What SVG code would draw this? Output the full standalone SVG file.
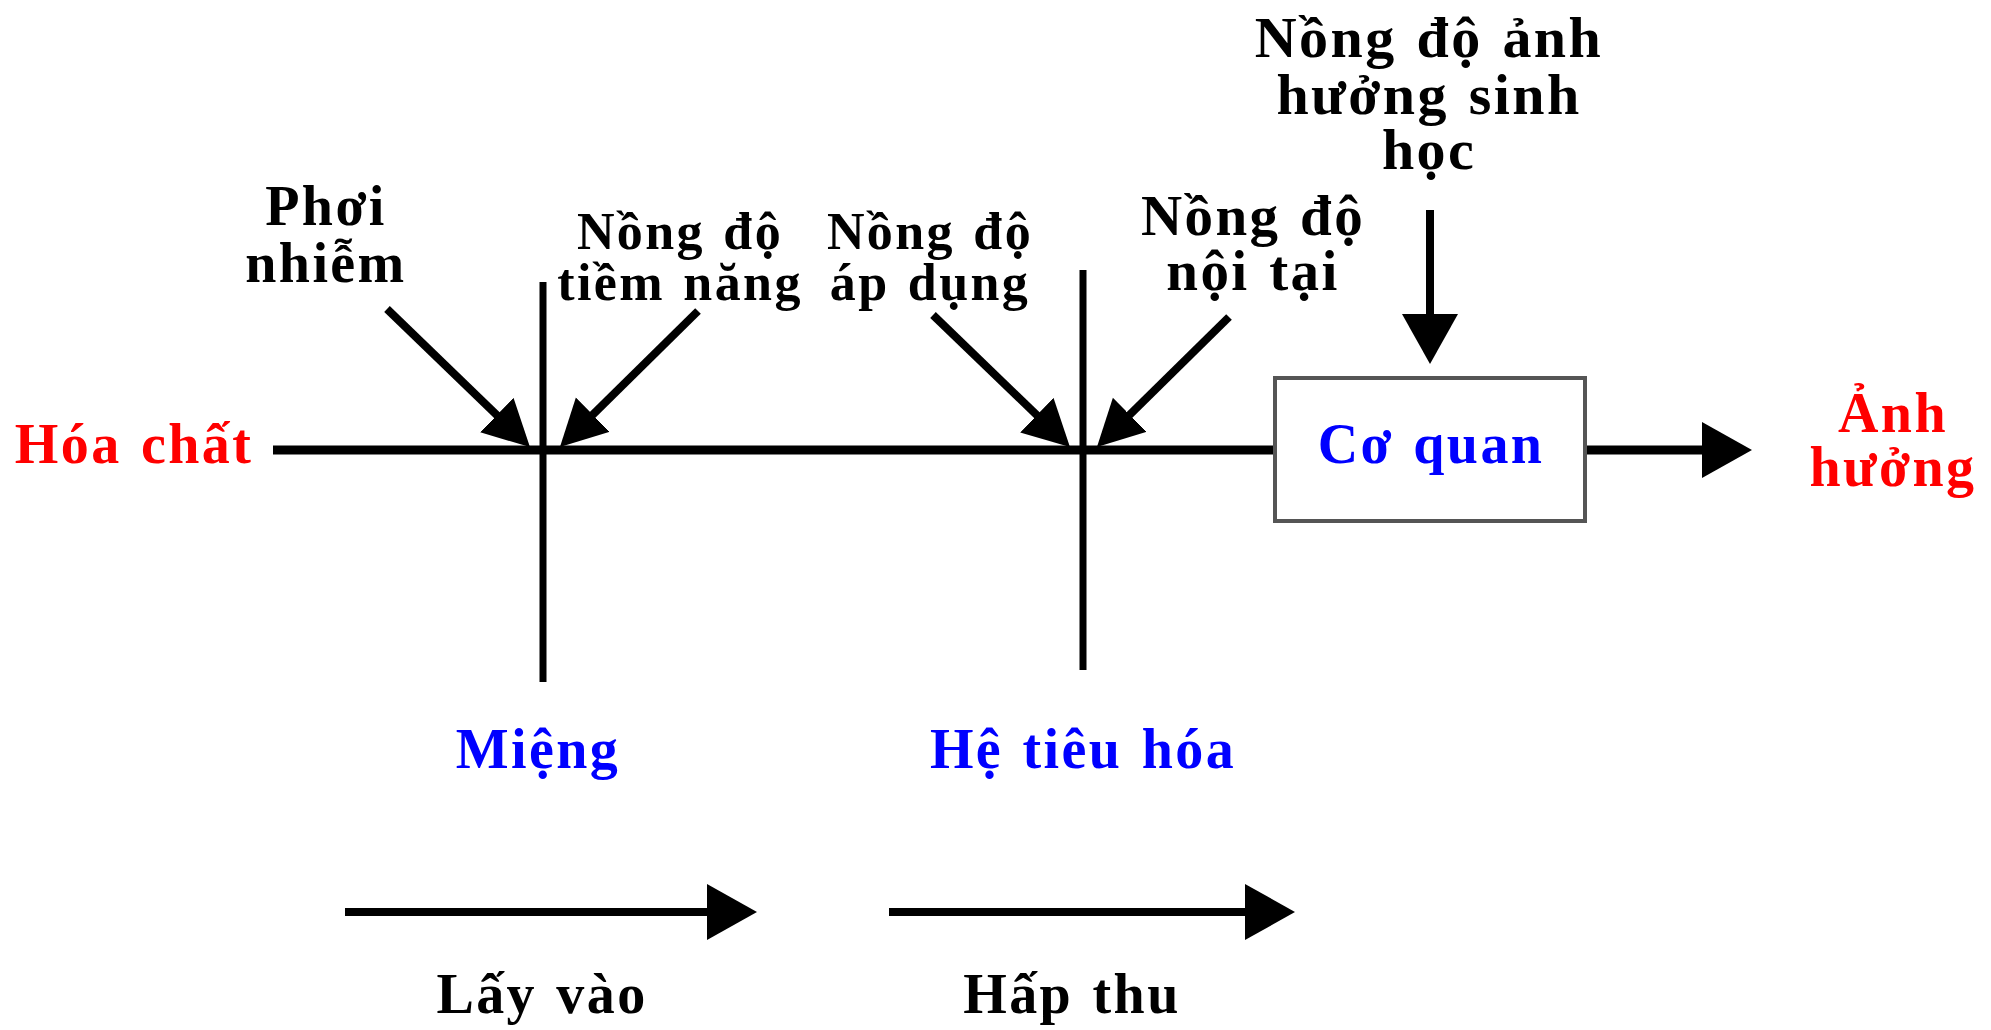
<svg xmlns="http://www.w3.org/2000/svg" width="1991" height="1030" viewBox="0 0 1991 1030">
<style>
text{font-family:"Liberation Serif","Times New Roman",serif;font-weight:bold;text-anchor:middle;letter-spacing:2.4px;word-spacing:3px}
.k{fill:#000}.r{fill:#ff0000}.b{fill:#0000ff}
.ln{stroke:#000;fill:none}
</style>
<defs>
<marker id="ah" markerUnits="userSpaceOnUse" markerWidth="52" markerHeight="56" refX="20" refY="28" orient="auto"><path d="M0,0 L50,28 L0,56 Z" fill="#000"/></marker>
<marker id="ahs" markerUnits="userSpaceOnUse" markerWidth="48" markerHeight="50" refX="18" refY="24" orient="auto"><path d="M0,0 L46,24 L0,48 Z" fill="#000"/></marker>
</defs>
<rect width="1991" height="1030" fill="#fff"/>
<g id="connectors">
<line class="ln" x1="273" y1="450" x2="1275" y2="450" stroke-width="9"/>
<line class="ln" x1="543" y1="282" x2="543" y2="682" stroke-width="7"/>
<line class="ln" x1="1083" y1="270" x2="1083" y2="670" stroke-width="7"/>
<line class="ln" x1="387" y1="309" x2="509.8" y2="427.6" stroke-width="8" marker-end="url(#ahs)"/>
<line class="ln" x1="698" y1="311" x2="579.9" y2="427.3" stroke-width="8" marker-end="url(#ahs)"/>
<line class="ln" x1="933" y1="315" x2="1049.8" y2="427.6" stroke-width="8" marker-end="url(#ahs)"/>
<line class="ln" x1="1229" y1="317" x2="1116.9" y2="427.4" stroke-width="8" marker-end="url(#ahs)"/>
<line class="ln" x1="1430" y1="210" x2="1430" y2="334" stroke-width="8" marker-end="url(#ah)"/>
<line class="ln" x1="1585" y1="450" x2="1722" y2="450" stroke-width="9" marker-end="url(#ah)"/>
<line class="ln" x1="345" y1="912" x2="727" y2="912" stroke-width="8" marker-end="url(#ah)"/>
<line class="ln" x1="889" y1="912" x2="1265" y2="912" stroke-width="8" marker-end="url(#ah)"/>
</g>
<g id="hoa-chat"><text class="r" x="134" y="463" font-size="56">Hóa chất</text></g>
<g id="phoi-nhiem"><text class="k" x="326" y="225" font-size="56">Phơi</text><text class="k" x="326" y="282" font-size="56">nhiễm</text></g>
<g id="nong-do-tiem-nang"><text class="k" x="680" y="249" font-size="52">Nồng độ</text><text class="k" x="680" y="300" font-size="52">tiềm năng</text></g>
<g id="nong-do-ap-dung"><text class="k" x="930" y="249" font-size="52">Nồng độ</text><text class="k" x="930" y="300" font-size="52">áp dụng</text></g>
<g id="nong-do-noi-tai"><text class="k" x="1253" y="235" font-size="57">Nồng độ</text><text class="k" x="1253" y="290" font-size="57">nội tại</text></g>
<g id="nong-do-anh-huong"><text class="k" x="1429" y="57" font-size="58">Nồng độ ảnh</text><text class="k" x="1429" y="114" font-size="58">hưởng sinh</text><text class="k" x="1429" y="169" font-size="58">học</text></g>
<g id="co-quan"><rect x="1275" y="378" width="310" height="143" fill="#fff" stroke="#555" stroke-width="4"/><text class="b" x="1431" y="463" font-size="56">Cơ quan</text></g>
<g id="anh-huong"><text class="r" x="1893" y="432" font-size="56">Ảnh</text><text class="r" x="1893" y="486" font-size="56">hưởng</text></g>
<g id="mieng"><text class="b" x="538" y="768" font-size="56">Miệng</text></g>
<g id="he-tieu-hoa"><text class="b" x="1083" y="768" font-size="56">Hệ tiêu hóa</text></g>
<g id="lay-vao"><text class="k" x="542" y="1013" font-size="56">Lấy vào</text></g>
<g id="hap-thu"><text class="k" x="1072" y="1013" font-size="56">Hấp thu</text></g>
</svg>
